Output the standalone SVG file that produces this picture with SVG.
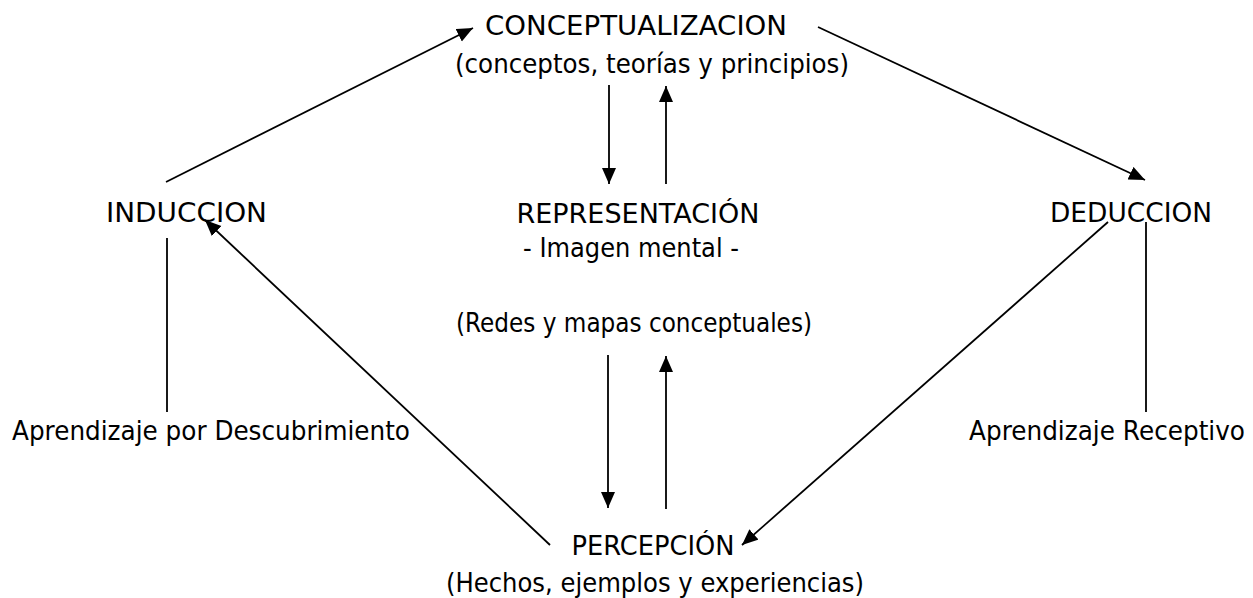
<svg xmlns="http://www.w3.org/2000/svg" width="1253" height="598" viewBox="0 0 1253 598">
<style>
text{font-family:"Comic Sans MS","DejaVu Sans","Noto Sans",sans-serif;font-size:27px;fill:#000;text-anchor:middle}
.c line{stroke:#000;stroke-width:1.8;fill:none}
</style>
<defs>
<marker id="ah" markerUnits="userSpaceOnUse" markerWidth="18" markerHeight="16" refX="16" refY="7" orient="auto">
<path d="M0,0 L16,7 L0,14 z" fill="#000"/>
</marker>
</defs>
<rect width="1253" height="598" fill="#fff"/>
<g class="c" id="connectors">
<line x1="166" y1="182" x2="473" y2="28" marker-end="url(#ah)"/>
<line x1="818" y1="27" x2="1145" y2="180" marker-end="url(#ah)"/>
<line x1="609" y1="85" x2="609" y2="184" marker-end="url(#ah)"/>
<line x1="666" y1="184" x2="666" y2="86" marker-end="url(#ah)"/>
<line x1="167" y1="238" x2="167" y2="412"/>
<line x1="1146" y1="222" x2="1146" y2="412"/>
<line x1="550" y1="545" x2="205" y2="220" marker-end="url(#ah)"/>
<line x1="1108" y1="222" x2="742" y2="545" marker-end="url(#ah)"/>
<line x1="608" y1="355" x2="608" y2="508" marker-end="url(#ah)"/>
<line x1="666" y1="509" x2="666" y2="356" marker-end="url(#ah)"/>
</g>
<g id="conceptualizacion">
<text x="636" y="35" textLength="302" lengthAdjust="spacingAndGlyphs">CONCEPTUALIZACION</text>
<text x="652" y="73" textLength="394" lengthAdjust="spacingAndGlyphs">(conceptos, teorías y principios)</text>
</g>
<g id="induccion">
<text x="186.5" y="222" textLength="161" lengthAdjust="spacingAndGlyphs">INDUCCION</text>
</g>
<g id="representacion">
<text x="638" y="223" textLength="243" lengthAdjust="spacingAndGlyphs">REPRESENTACIÓN</text>
<text x="631" y="257" textLength="216" lengthAdjust="spacingAndGlyphs">- Imagen mental -</text>
<text x="634" y="332" textLength="356" lengthAdjust="spacingAndGlyphs">(Redes y mapas conceptuales)</text>
</g>
<g id="deduccion">
<text x="1131" y="222" textLength="162" lengthAdjust="spacingAndGlyphs">DEDUCCION</text>
</g>
<g id="descubrimiento">
<text x="211" y="440" textLength="398" lengthAdjust="spacingAndGlyphs">Aprendizaje por Descubrimiento</text>
</g>
<g id="receptivo">
<text x="1107" y="440" textLength="276" lengthAdjust="spacingAndGlyphs">Aprendizaje Receptivo</text>
</g>
<g id="percepcion">
<text x="653" y="555" textLength="163" lengthAdjust="spacingAndGlyphs">PERCEPCIÓN</text>
<text x="655" y="592" textLength="418" lengthAdjust="spacingAndGlyphs">(Hechos, ejemplos y experiencias)</text>
</g>
</svg>
